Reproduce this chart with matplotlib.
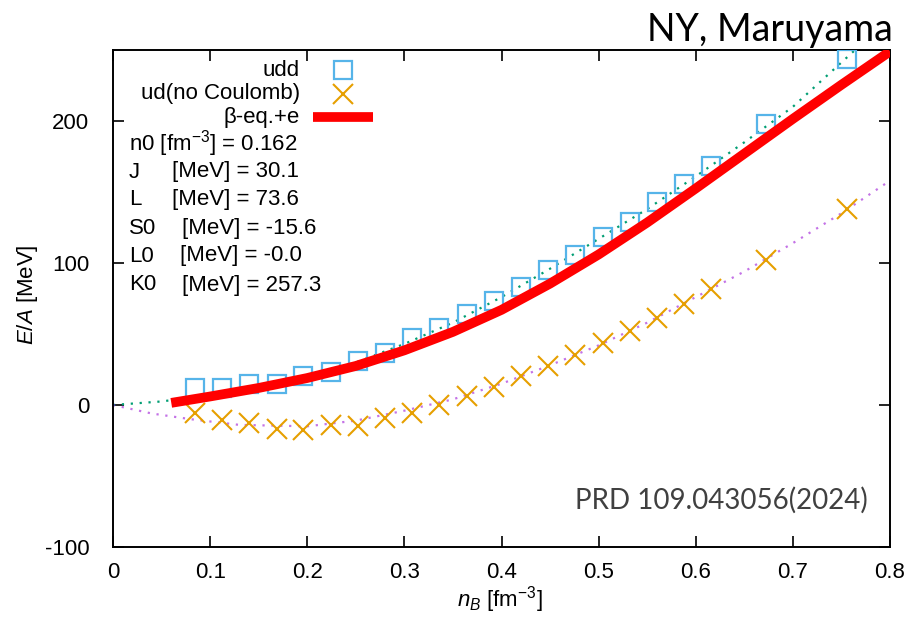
import matplotlib
matplotlib.use("Agg")
import matplotlib.pyplot as plt

plt.rcParams['font.family'] = ['Liberation Sans', 'DejaVu Sans']
plt.rcParams['mathtext.fontset'] = 'custom'
plt.rcParams['mathtext.rm'] = 'Liberation Sans'
plt.rcParams['mathtext.it'] = 'Liberation Sans:italic'
plt.rcParams['mathtext.bf'] = 'Liberation Sans:bold'
plt.rcParams['axes.unicode_minus'] = False

# ---- data ----
nB_pts = [0.0845, 0.112, 0.140, 0.169, 0.196, 0.224, 0.252, 0.280, 0.308, 0.336, 0.364,
          0.392, 0.420, 0.448, 0.476, 0.504, 0.532, 0.560, 0.588, 0.616, 0.672, 0.756]
udd_E = [11.7, 11.7, 14.6, 15.0, 20.4, 23.5, 30.8, 36.8, 47.0, 54.0, 63.9,
         73.5, 83.3, 94.8, 105.9, 118.5, 129.1, 142.7, 155.6, 168.5, 197.7, 243.7]
ud_E = [-5.9, -10.6, -12.9, -17.1, -17.6, -14.1, -14.6, -8.9, -5.9, 0.0, 6.3,
        12.9, 20.7, 27.5, 35.5, 43.7, 52.4, 61.0, 70.9, 81.5, 102.1, 137.8]

udd_fit_x = [0.0, 0.05, 0.1, 0.15, 0.2, 0.25, 0.3, 0.35, 0.4, 0.45, 0.5, 0.55, 0.6, 0.65, 0.7, 0.764]
udd_fit_E = [0.0, 2.5, 7.0, 12.5, 20.0, 30.0, 43.0, 58.0, 76.0, 96.0, 117.0, 138.0, 161.0, 185.0, 210.0, 250.0]

ud_fit_x = [0.0, 0.04, 0.08, 0.13, 0.2, 0.25, 0.3, 0.35, 0.4, 0.45, 0.5, 0.55, 0.6, 0.65, 0.7, 0.75, 0.8]
ud_fit_E = [0.0, -6.0, -10.0, -14.0, -15.0, -11.0, -4.0, 4.0, 15.0, 28.0, 42.0, 58.0, 76.0, 94.0, 114.0, 135.0, 158.0]

beta_x = [0.06, 0.1, 0.15, 0.2, 0.25, 0.3, 0.35, 0.4, 0.45, 0.5, 0.55, 0.6, 0.65, 0.7, 0.75, 0.8]
beta_E = [1.5, 6.0, 12.0, 19.0, 27.5, 38.5, 51.5, 67.0, 85.5, 106.0, 128.5, 152.5, 177.0, 201.5, 225.5, 249.0]

series_labels = ["udd", "ud(no Coulomb)", "\u03b2-eq.+e"]
param_names = ["n0 [fm$^{-3}$] = 0.162", "J", "L", "S0", "L0", "K0"]
param_vals = ["", "[MeV] = 30.1", "[MeV] = 73.6", "[MeV] = -15.6", "[MeV] = -0.0", "[MeV] = 257.3"]
x_ticks = [0, 0.1, 0.2, 0.3, 0.4, 0.5, 0.6, 0.7, 0.8]
x_ticklabels = ["0", "0.1", "0.2", "0.3", "0.4", "0.5", "0.6", "0.7", "0.8"]
y_ticks = [-100, 0, 100, 200]

C_BLUE = "#56B4E9"
C_ORANGE = "#E69F00"
C_GREEN = "#009E73"
C_PURPLE = "#9400D3"

FS = 16

W, H = 912, 618
fig = plt.figure(figsize=(W / 100, H / 100), dpi=100)
L, R, T, B = 113, 890, 50, 547
ax = fig.add_axes([L / W, 1 - B / H, (R - L) / W, (B - T) / H])

def fx(px):
    return px / W

def fy(py):
    return 1 - py / H

ax.plot(udd_fit_x, udd_fit_E, linestyle=(0, (1, 3)), color=C_GREEN, lw=1.6, zorder=2)
ax.plot(ud_fit_x, ud_fit_E, linestyle=(0, (1, 3)), color=C_PURPLE, lw=1.6, alpha=0.55, zorder=2)
ax.plot(nB_pts, udd_E, linestyle='none', marker='s', ms=12.5, mfc='none', mec=C_BLUE, mew=1.6, zorder=3)
ax.plot(nB_pts, ud_E, linestyle='none', marker='x', ms=14, mec=C_ORANGE, mew=1.5, zorder=3)
ax.plot(beta_x, beta_E, color='#ff0000', lw=7, solid_capstyle='butt', solid_joinstyle='round', zorder=4)

ax.set_xlim(0, 0.8)
ax.set_ylim(-100, 250)
ax.set_xticks(x_ticks)
ax.set_xticklabels(x_ticklabels)
ax.set_yticks(y_ticks)
ax.tick_params(direction='in', length=8, width=1.2, labelsize=FS, top=True, right=True)
ax.tick_params(axis='y', pad=17)
ax.tick_params(axis='x', pad=11)
for s in ax.spines.values():
    s.set_linewidth(1.4)

fig.text(fx(28), fy(295), "$E/A$ [MeV]", rotation=90, ha='center', va='center', fontsize=FS)
fig.text(fx(500), fy(600), "$n_B$ [fm$^{-3}$]", ha='center', va='center', fontsize=FS)

# legend (gnuplot style)
leg_y = [70, 94, 117]
for lab, yy in zip(series_labels, leg_y):
    fig.text(fx(300), fy(yy), lab, ha='right', va='center', fontsize=FS)
fig.add_artist(plt.Line2D([fx(343)], [fy(70)], marker='s', ms=12.5, mfc='none', mec=C_BLUE, mew=1.6, transform=fig.transFigure))
fig.add_artist(plt.Line2D([fx(343)], [fy(94)], marker='x', ms=14, mec=C_ORANGE, mew=1.5, transform=fig.transFigure))
fig.add_artist(plt.Line2D([fx(313), fx(373)], [fy(117), fy(117)], color='#ff0000', lw=7, solid_capstyle='butt', transform=fig.transFigure))

param_y = [144, 172, 200, 228, 256, 285]
val_x = [None, 172, 172, 182, 180, 182]
for name, val, yy, vx in zip(param_names, param_vals, param_y, val_x):
    fig.text(fx(129), fy(yy), name, ha='left', va='center', fontsize=FS)
    if vx is not None:
        fig.text(fx(vx), fy(yy), val, ha='left', va='center', fontsize=FS)

fig.text(fx(893), fy(30), "NY, Maruyama", ha='right', va='center', fontsize=27, family=['Lato', 'DejaVu Sans'])
fig.text(fx(868), fy(500), "PRD 109.043056(2024)", ha='right', va='center', fontsize=20,
         color='#404040', family=['Lato', 'DejaVu Sans'])

fig.savefig("out.png", dpi=100)
